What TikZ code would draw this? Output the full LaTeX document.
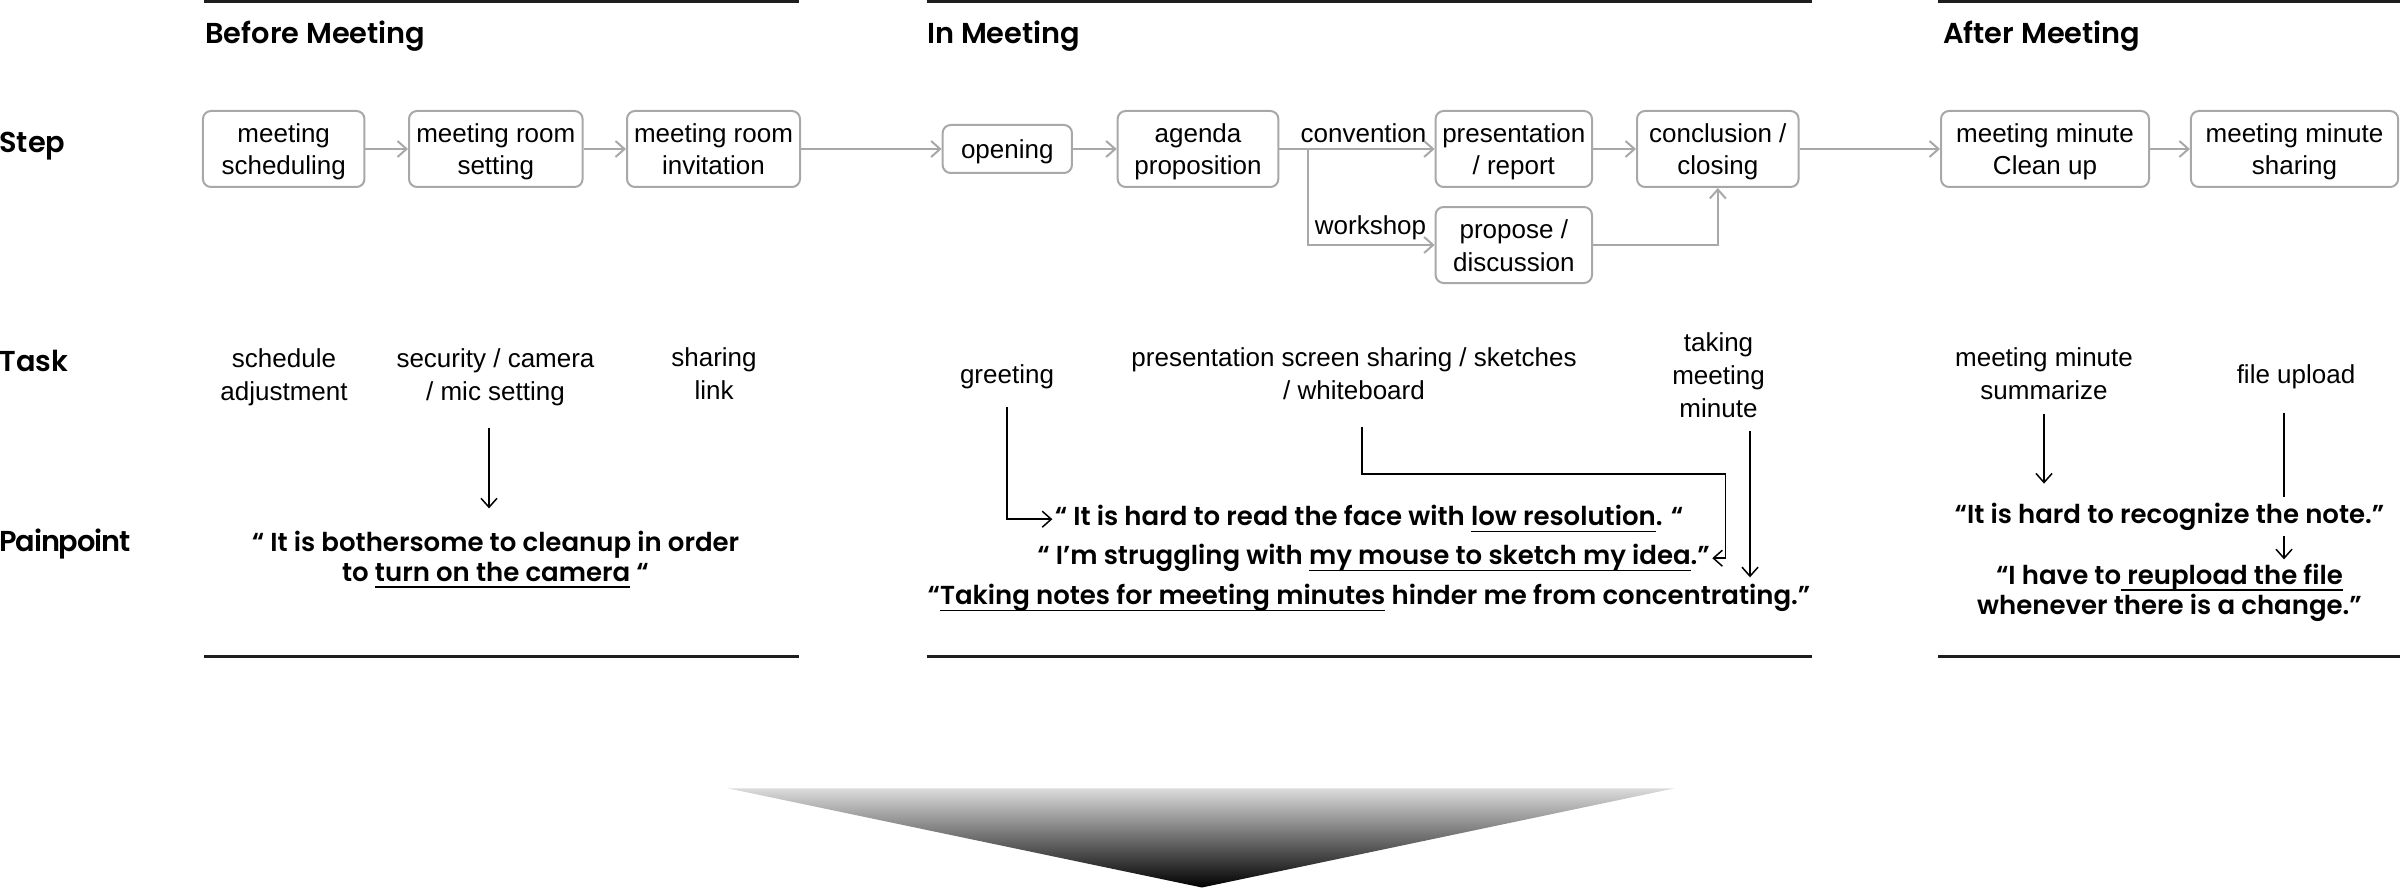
\documentclass[tikz,border=0pt]{standalone}
\usepackage{fontspec}
\setmainfont{Liberation Sans}
\newfontfamily\popsemi{Poppins SemiBold}
\newfontfamily\popsemitight{Poppins SemiBold}[LetterSpace=-4]
\usetikzlibrary{arrows.meta,calc,backgrounds}
\definecolor{boxgray}{HTML}{A8A8A8}
\definecolor{rulegray}{HTML}{1E1E1E}
\newsavebox\ulbox
\newcommand\uln[1]{\sbox\ulbox{#1}\rlap{\rule[-3.2pt]{\wd\ulbox}{0.8pt}}\usebox\ulbox}
\newcommand\tst{\rule{0pt}{12.5pt}}
\newcommand\bst{\rule[-3pt]{0pt}{3pt}}
\newcommand\ptst{\rule{0pt}{10pt}}
\newcommand\pbst{\rule[-3.5pt]{0pt}{3.5pt}}
\begin{document}
\begin{tikzpicture}[x=0.5pt,y=-0.5pt,
  stepbox/.style={draw=boxgray, line width=1pt, rounded corners=4pt, align=center,
    inner sep=0pt, minimum height=38pt, font=\fontsize{13}{16.5}\selectfont},
  lbl/.style={inner sep=0pt, font=\fontsize{13}{16.5}\selectfont},
  task/.style={inner sep=0pt, align=center, font=\fontsize{13}{16.5}\selectfont},
  pain/.style={inner sep=0pt, align=center, font=\popsemi\fontsize{13}{15}\selectfont},
  painline/.style={pain, text height=10pt, text depth=3.5pt},
  head/.style={inner sep=0pt, font=\popsemi\fontsize{14.4}{17}\selectfont},
  garrow/.style={draw=boxgray, line width=1pt, -{Straight Barb[length=4.5pt,width=8pt]}},
  blk/.style={draw=black, line width=0.75pt, -{Straight Barb[length=4.5pt,width=8pt]}},
  rulel/.style={draw=rulegray, line width=1.5pt}]
\useasboundingbox (0,0) rectangle (2400,888);

% section rules
\draw[rulel] (204,1.5) -- (799,1.5);
\draw[rulel] (926.7,1.5) -- (1811.6,1.5);
\draw[rulel] (1938.4,1.5) -- (2400,1.5);
\draw[rulel] (204,656) -- (799,656);
\draw[rulel] (926.7,656) -- (1811.6,656);
\draw[rulel] (1938.4,656) -- (2400,656);

% headers
\node[head, anchor=base west] (h1) at (205,44) {Before Meeting};
\node[head, anchor=base west] (h2) at (926.7,44) {In Meeting};
\node[head, anchor=base west] (h3) at (1942.8,44) {After Meeting};
\node[head, anchor=base west] (rstep) at (-1,153) {Step};
\node[head, anchor=base west] (rtask) at (-1,371.7) {Task};
\node[head, anchor=base west, font=\popsemitight\fontsize{14.4}{17}\selectfont] (rpain) at (-1,551.5) {Painpoint};

% steps
\node[stepbox, minimum width=80.75pt] (b1) at (283.7,149) {\tst meeting\\scheduling\bst};
\node[stepbox, minimum width=86.8pt] (b2) at (495.8,149) {\tst meeting room\\setting\bst};
\node[stepbox, minimum width=86.5pt] (b3) at (713.5,149) {\tst meeting room\\invitation\bst};
\node[stepbox, minimum width=64.65pt, minimum height=24pt] (op) at (1007.3,149) {\tst opening\bst};
\node[stepbox, minimum width=80.35pt] (ag) at (1198,149) {\tst agenda\\proposition\bst};
\node[stepbox, minimum width=78.2pt] (pr) at (1513.8,149) {\tst presentation\\/ report\bst};
\node[stepbox, minimum width=80.8pt] (cc) at (1717.8,149) {\tst conclusion /\\closing\bst};
\node[stepbox, minimum width=78.2pt] (pd) at (1513.8,245) {\tst propose /\\discussion\bst};
\node[stepbox, minimum width=104pt] (cu) at (2045,149) {\tst meeting minute\\Clean up\bst};
\node[stepbox, minimum width=103.6pt] (sh) at (2294.5,149) {\tst meeting minute\\sharing\bst};

\node[lbl, anchor=base] (conv) at (1363.5,143) {convention};
\node[lbl, anchor=base] (work) at (1370.5,234.5) {workshop};

\draw[garrow] (b1.east) -- (b2.west);
\draw[garrow] (b2.east) -- (b3.west);
\draw[garrow] (b3.east) -- (op.west);
\draw[garrow] (op.east) -- (ag.west);
\draw[garrow] (ag.east) -- (pr.west);
\coordinate (br) at (1308,149);
\draw[garrow] (ag.east) -- (br) |- (pd.west);
\draw[garrow] (pr.east) -- (cc.west);
\draw[garrow] (pd.east) -| (cc.south);
\draw[garrow] (cc.east) -- (cu.west);
\draw[garrow] (cu.east) -- (sh.west);

% tasks
\node[task] (t1) at (284,377) {schedule\\adjustment};
\node[task] (t2) at (495.5,377) {security / camera\\/ mic setting};
\node[task] (t3) at (714,374) {sharing\\link};
\node[task] (t4) at (1007,377) {greeting};
\node[task] (t5) at (1354,374) {presentation screen sharing / sketches\\/ whiteboard};
\node[task] (t6) at (1718.5,375.2) {taking\\meeting\\minute};
\node[task] (t7) at (2044,374) {meeting minute\\summarize};
\node[task] (t8) at (2296,377) {file upload};

% painpoints
\node[pain] (pb) at (495.5,559.5) {\ptst“ It is bothersome to cleanup in order\\to \uln{turn on the camera} “\pbst};
\node[painline] (im1) at (1369,519.2) {“ It is hard to read the face with \uln{low resolution}. “};
\node[painline] (im2) at (1373.6,558.2) {“ I’m struggling with \uln{my mouse to sketch my idea}.”};
\node[painline] (im3) at (1369,598.2) {“\uln{Taking notes for meeting minutes} hinder me from concentrating.”};
\node[painline, fill=white, inner ysep=3pt] (ap1) at (2169.5,516.5) {“It is hard to recognize the note.”};
\node[pain] (ap2) at (2169.5,592.5) {\ptst“I have to\uln{ reupload the file}\\whenever there is a change.”\pbst};

% task -> painpoint connectors
\draw[blk] ([xshift=-3.25pt,yshift=-11.2pt]t2.south) -- ([xshift=-3.25pt,yshift=11pt]pb.north);
\draw[blk] ([yshift=-8.85pt]t4.south) |- ([xshift=-1pt]im1.west);
\coordinate (c5) at (1725.6,474);
\draw[blk] ([xshift=4pt,yshift=-13.35pt]t5.south) |- (c5) |- ([xshift=1pt]im2.east);
\coordinate (s6) at ([xshift=15.75pt,yshift=-6.25pt]t6.south);
\draw[blk, shorten >=3.5pt] (s6) -- (s6 |- im3.north);
\draw[blk, shorten <=7pt, shorten >=6.5pt] (t7.south) -- (t7.south |- ap1.north);
\coordinate (s8) at ([xshift=-6pt,yshift=-11.5pt]t8.south);
\begin{scope}[on background layer]
\draw[blk, shorten >=2pt] (s8) -- (s8 |- ap2.north);
\end{scope}

% gradient triangle
\shade[top color=black!14, bottom color=black] (727.7,788.3) -- (1674.7,788.3) -- (1201.9,887.5) -- cycle;
\end{tikzpicture}
\end{document}
